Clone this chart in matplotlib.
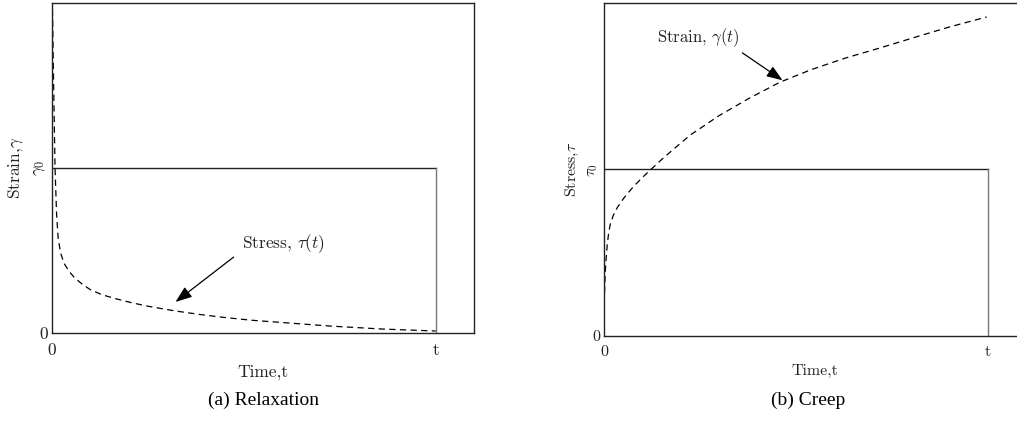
import matplotlib
matplotlib.use("Agg")
import matplotlib.pyplot as plt

plt.rcParams['mathtext.fontset'] = 'cm'
plt.rcParams['font.family'] = ['Liberation Serif', 'DejaVu Serif']

# step input (time end = 1, level = 0.5)
t_end = 1.0
level = 0.5

# relaxation: stress response tau(t)
relax_t = [0.0, 0.001, 0.003, 0.005, 0.008, 0.012, 0.016, 0.022, 0.031, 0.045, 0.060,
           0.080, 0.099, 0.130, 0.169, 0.210, 0.255, 0.320, 0.386, 0.450, 0.516,
           0.620, 0.725, 0.860, 1.0]
relax_tau = [1.05, 1.0, 0.85, 0.706, 0.5, 0.36, 0.29, 0.245, 0.212, 0.186, 0.166,
             0.147, 0.132, 0.116, 0.103, 0.091, 0.080, 0.067, 0.056, 0.047, 0.039,
             0.030, 0.021, 0.012, 0.006]

# creep: strain response gamma(t)
creep_t = [0.001, 0.003, 0.005, 0.008, 0.012, 0.016, 0.024, 0.034, 0.052, 0.076, 0.098,
           0.120, 0.150, 0.180, 0.224, 0.300, 0.380, 0.458, 0.540, 0.630, 0.719,
           0.810, 0.900, 0.997]
creep_gamma = [0.129, 0.190, 0.228, 0.272, 0.310, 0.335, 0.362, 0.385, 0.415, 0.448, 0.474,
               0.498, 0.530, 0.560, 0.603, 0.662, 0.715, 0.762, 0.800, 0.835, 0.865,
               0.897, 0.928, 0.958]

fig = plt.figure(figsize=(10.17, 4.28), dpi=100)
ax1 = fig.add_axes([0.0511, 0.222, 0.415, 0.771])
ax2 = fig.add_axes([0.594, 0.215, 0.415, 0.778])

ink = '#222222'
cm = 'cmr10'


def setup(ax, ylab, size, level_lab, xpad):
    ax.set_xlim(0, 1.1)
    ax.set_ylim(0, 1)
    ax.set_xticks([0, t_end])
    ax.set_xticklabels(['0', 't'], fontfamily=cm)
    ax.set_yticks([0, level])
    ax.set_yticklabels(['0', level_lab], fontfamily=cm)
    ax.get_yticklabels()[1].set_rotation(90)
    ax.get_yticklabels()[1].set_va('center')
    ax.tick_params(length=0, labelsize=size, pad=3, colors=ink)
    ax.tick_params(axis='x', pad=7)
    for s in ax.spines.values():
        s.set_color(ink)
        s.set_linewidth(1.0)
    ax.set_xlabel('Time,t', fontsize=size, color=ink, labelpad=xpad, fontfamily=cm)
    ax.set_ylabel(ylab, fontsize=size, color=ink, labelpad=4, fontfamily=cm)
    # step load
    ax.plot([0, t_end], [level, level], color=ink, lw=1.0)
    ax.plot([t_end, t_end], [level, 0], color='#777777', lw=1.0)


setup(ax1, r'Strain,$\gamma$', 12.5, r'$\gamma_0$', 5)
ax1.plot(relax_t, relax_tau, color='black', lw=0.9, ls=(0, (5, 3.5)))
ax1.annotate(r'Stress, $\tau(t)$', xy=(0.322, 0.094), xytext=(0.495, 0.27),
             fontsize=12.5, color=ink, va='center', ha='left', fontfamily=cm,
             arrowprops=dict(arrowstyle='-|>,head_length=0.8,head_width=0.3',
                             color='black', lw=0.9, shrinkA=5, shrinkB=0,
                             relpos=(0.0, 0.2)))

setup(ax2, r'Stress,$\tau$', 11.5, r'$\tau_0$', 3)
ax2.plot(creep_t, creep_gamma, color='black', lw=0.9, ls=(0, (5, 3.5)))
ax2.annotate(r'Strain, $\gamma(t)$', xy=(0.465, 0.768), xytext=(0.138, 0.895),
             fontsize=12, color=ink, va='center', ha='left', fontfamily=cm,
             arrowprops=dict(arrowstyle='-|>,head_length=0.8,head_width=0.3',
                             color='black', lw=0.9, shrinkA=1, shrinkB=0,
                             relpos=(0.97, 0.0)))

fig.text(263 / 1017, 1 - 400 / 428, '(a) Relaxation', ha='center', va='center',
         fontsize=14, family='Liberation Serif')
fig.text(808 / 1017, 1 - 400 / 428, '(b) Creep', ha='center', va='center',
         fontsize=14, family='Liberation Serif')

fig.savefig('out.png', dpi=100)
